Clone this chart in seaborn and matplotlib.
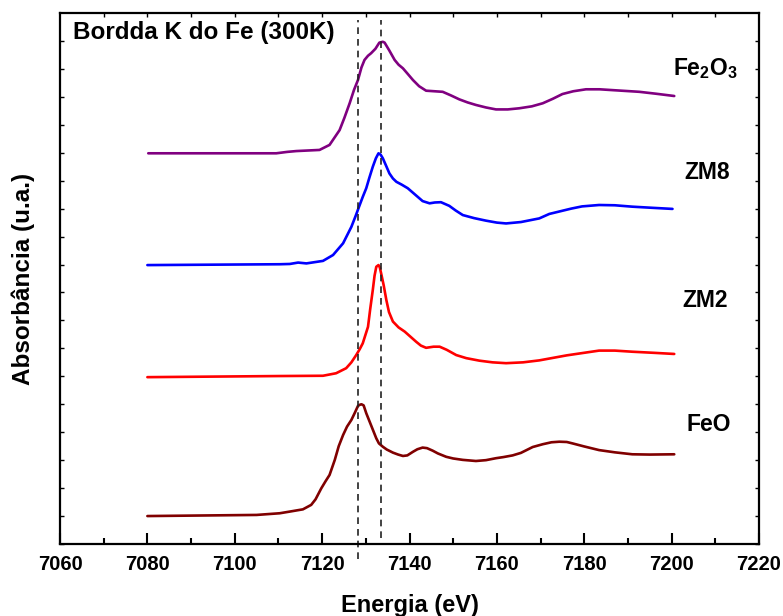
import numpy as np
import pandas as pd
import matplotlib
matplotlib.use("Agg")
import matplotlib.pyplot as plt
import seaborn as sns

# XANES Fe K-edge spectra (stacked with offsets)
feo_x = [7080.0, 7105.0, 7110.3, 7112.6, 7115.6, 7117.5, 7118.5, 7119.8, 7120.8, 7121.7,
         7122.9, 7123.8, 7124.8, 7125.7, 7126.7, 7127.5, 7128.2, 7128.6, 7129.0, 7129.5,
         7130.1, 7131.2, 7132.4, 7133.0, 7133.9, 7134.8, 7136.2, 7137.4, 7138.5, 7139.5,
         7140.8, 7141.8, 7143.0, 7144.0, 7145.3, 7146.5, 7148.4, 7150.0, 7152.2, 7155.2,
         7157.5, 7159.8, 7161.5, 7163.6, 7165.5, 7168.2, 7170.5, 7172.5, 7174.3, 7176.0,
         7177.3, 7180.0, 7183.4, 7187.0, 7191.0, 7195.0, 7200.6]
feo_y = [1.00, 1.04, 1.10, 1.16, 1.24, 1.40, 1.60, 1.99, 2.25, 2.47,
         3.01, 3.50, 3.90, 4.20, 4.44, 4.70, 4.94, 4.98, 5.00, 4.96,
         4.68, 4.25, 3.78, 3.60, 3.48, 3.38, 3.27, 3.20, 3.15, 3.17,
         3.30, 3.39, 3.45, 3.43, 3.34, 3.24, 3.12, 3.06, 3.01, 2.97,
         3.00, 3.07, 3.11, 3.17, 3.26, 3.47, 3.57, 3.64, 3.66, 3.65,
         3.60, 3.49, 3.36, 3.28, 3.21, 3.20, 3.21]

zm2_x = [7080.0, 7110.3, 7120.2, 7123.2, 7125.5, 7126.7, 7127.8, 7128.6, 7129.3, 7130.5,
         7131.0, 7131.6, 7132.0, 7132.4, 7132.9, 7133.2, 7133.5, 7134.1, 7134.7, 7135.3,
         7136.2, 7137.5, 7138.9, 7140.2, 7141.5, 7142.6, 7143.8, 7145.5, 7146.9, 7148.5,
         7150.7, 7153.0, 7156.0, 7159.0, 7162.1, 7166.0, 7169.7, 7176.0, 7183.4, 7187.0,
         7191.0, 7196.0, 7200.6]
zm2_y = [5.97, 6.01, 6.02, 6.11, 6.29, 6.50, 6.76, 6.97, 7.18, 7.77,
         8.40, 9.09, 9.60, 9.92, 9.98, 9.90, 9.69, 9.25, 8.73, 8.30,
         7.96, 7.75, 7.60, 7.42, 7.24, 7.10, 7.02, 7.06, 7.06, 6.95,
         6.76, 6.65, 6.56, 6.50, 6.47, 6.50, 6.57, 6.75, 6.92, 6.92,
         6.88, 6.84, 6.80]

zm8_x = [7080.0, 7110.3, 7112.6, 7114.5, 7116.4, 7120.2, 7122.5, 7124.8, 7126.7, 7127.7,
         7128.6, 7129.3, 7130.1, 7130.8, 7131.6, 7132.3, 7132.9, 7133.4, 7133.9, 7134.6,
         7135.4, 7136.2, 7137.0, 7138.2, 7139.6, 7141.3, 7143.0, 7144.6, 7145.8, 7147.2,
         7149.1, 7150.6, 7152.2, 7154.8, 7157.5, 7160.0, 7162.1, 7165.5, 7169.7, 7172.0,
         7177.0, 7179.5, 7183.4, 7187.0, 7191.0, 7195.5, 7200.2]
zm8_y = [9.98, 10.01, 10.02, 10.07, 10.04, 10.13, 10.34, 10.76, 11.35, 11.75,
         12.13, 12.42, 12.73, 13.10, 13.50, 13.80, 13.98, 13.93, 13.80, 13.55,
         13.26, 13.08, 12.96, 12.86, 12.73, 12.50, 12.27, 12.19, 12.22, 12.23,
         12.10, 11.93, 11.77, 11.66, 11.57, 11.50, 11.47, 11.52, 11.65, 11.81,
         12.00, 12.08, 12.13, 12.12, 12.07, 12.03, 11.99]

fe2o3_x = [7080.2, 7109.5, 7112.0, 7114.1, 7119.4, 7121.7, 7124.0, 7125.1, 7126.3, 7127.3,
           7128.2, 7129.0, 7129.7, 7130.5, 7131.2, 7132.2, 7133.1, 7133.9, 7134.3, 7135.3,
           7136.6, 7137.5, 7138.5, 7139.6, 7140.8, 7142.2, 7143.8, 7145.7, 7147.6, 7149.5,
           7151.4, 7153.3, 7155.2, 7157.5, 7159.8, 7162.5, 7165.1, 7168.0, 7170.5, 7172.8,
           7175.0, 7177.5, 7180.4, 7183.5, 7186.5, 7192.6, 7196.5, 7200.6]
fe2o3_y = [13.98, 13.98, 14.03, 14.06, 14.10, 14.28, 14.81, 15.25, 15.77, 16.25,
           16.60, 17.05, 17.32, 17.47, 17.56, 17.72, 17.94, 17.97, 17.94, 17.68,
           17.32, 17.15, 17.02, 16.82, 16.60, 16.38, 16.22, 16.20, 16.18, 16.05,
           15.91, 15.80, 15.71, 15.62, 15.55, 15.55, 15.59, 15.66, 15.77, 15.93,
           16.10, 16.20, 16.27, 16.27, 16.24, 16.18, 16.11, 16.03]

samples = ["FeO", "ZM2", "ZM8", "Fe2O3"]
sample_labels = ["FeO", "ZM2", "ZM8", r"$\mathbf{Fe_2O_3}$"]
label_pos = [(7208.6, 4.26), (7207.7, 8.73), (7208.1, 13.31), (7207.7, 17.0)]
colors = ["#800000", "#ff0000", "#0000ff", "#800080"]
edge_lines = [7128.3, 7133.5]

sns.set_style("ticks")
plt.rcParams['font.family'] = ['Liberation Sans', 'DejaVu Sans']
plt.rcParams['font.weight'] = 'bold'
plt.rcParams['mathtext.fontset'] = 'custom'
plt.rcParams['mathtext.rm'] = 'Liberation Sans:bold'
plt.rcParams['mathtext.bf'] = 'Liberation Sans:bold'
for key in ['text.color', 'axes.labelcolor', 'xtick.color', 'ytick.color', 'axes.edgecolor']:
    plt.rcParams[key] = 'black'

frames = []
for name, xs, ys in zip(samples, [feo_x, zm2_x, zm8_x, fe2o3_x], [feo_y, zm2_y, zm8_y, fe2o3_y]):
    frames.append(pd.DataFrame({'energia': xs, 'abs': ys, 'amostra': name}))
df = pd.concat(frames, ignore_index=True)

fig = plt.figure(figsize=(7.83, 6.16), dpi=100)
ax = fig.add_axes([60/783, 1-544/616, (759-60)/783, (544-13)/616])

sns.lineplot(data=df, x='energia', y='abs', hue='amostra', palette=dict(zip(samples, colors)),
             sort=False, estimator=None, linewidth=1.9, legend=False, ax=ax)
for ln in ax.lines:
    ln.set_solid_joinstyle('round')

# dashed guide lines
ax.vlines(edge_lines[0], -0.55, 18.75, colors='#222222', linestyles=(0, (4, 3)), linewidth=1.2, clip_on=False)
ax.vlines(edge_lines[1], 0.2, 18.75, colors='#222222', linestyles=(0, (4, 3)), linewidth=1.2, clip_on=False)

for lab, (lx, ly) in zip(sample_labels, label_pos):
    ax.text(lx, ly, lab, ha='center', va='center', fontsize=16.5, fontweight='bold')

ax.text(7063, 18.3, "Bordda K do Fe (300K)", ha='left', va='center', fontsize=17.5, fontweight='bold')

ax.set_xlim(7060, 7220)
ax.set_ylim(0, 19)
ax.set_xticks(np.arange(7060, 7221, 20))
ax.set_xticks(np.arange(7070, 7220, 20), minor=True)
ax.set_yticks(np.arange(0, 19, 1))
ax.set_yticklabels([])
ax.tick_params(axis='x', which='major', direction='in', length=8, width=1.5, labelsize=14.5, pad=8)
ax.tick_params(axis='x', which='minor', direction='in', length=4.5, width=1.5)
ax.tick_params(axis='y', which='major', direction='in', length=3, width=1, left=True, right=True)
for lbl in ax.get_xticklabels():
    lbl.set_fontweight('bold')

top = ax.secondary_xaxis('top')
top.set_xticks(np.arange(7070, 7220, 10))
top.tick_params(direction='in', length=3, width=1, labeltop=False)
top.spines['top'].set_visible(False)

for sp in ax.spines.values():
    sp.set_linewidth(1.6)
    sp.set_color('black')
    sp.set_visible(True)

ax.set_xlabel("Energia (eV)", fontsize=17, fontweight='bold')
ax.set_ylabel("Absorbância (u.a.)", fontsize=17.5, fontweight='bold')
ax.xaxis.set_label_coords(0.5, -0.094)
ax.yaxis.set_label_coords(-0.036, 0.5)

plt.savefig("out.png", dpi=100)
